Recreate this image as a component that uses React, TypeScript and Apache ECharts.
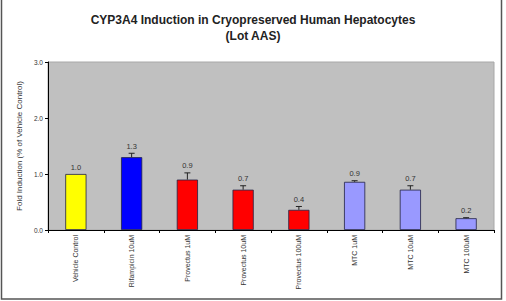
import React, { useEffect, useRef } from "react";
import * as echarts from "echarts";

const categories = [
  "Vehicle Control",
  "Rifampicin 10uM",
  "Provectus 1uM",
  "Provectus 10uM",
  "Provectus 100uM",
  "MTC 1uM",
  "MTC 10uM",
  "MTC 100uM",
];
const foldValues = [1.0, 1.3, 0.9, 0.72, 0.36, 0.86, 0.72, 0.21];
const errValues = [0, 0.07, 0.12, 0.07, 0.06, 0.02, 0.07, 0.01];
const valueLabels = ["1.0", "1.3", "0.9", "0.7", "0.4", "0.9", "0.7", "0.2"];
const barColors = ["#ffff00", "#0000ff", "#ff0000", "#ff0000", "#ff0000", "#9999ff", "#9999ff", "#9999ff"];
const yTicks = [0, 1, 2, 3];

const FONT = "'Liberation Sans', Arial, sans-serif";

export default function App() {
  const ref = useRef<HTMLDivElement>(null);

  useEffect(() => {
    if (!ref.current) return;
    const chart = echarts.init(ref.current, null, { renderer: "svg" });
    chart.setOption({
      animation: false,
      backgroundColor: "#ffffff",
      title: {
        text: "CYP3A4 Induction in Cryopreserved Human Hepatocytes\n(Lot AAS)",
        left: "center",
        top: 7,
        textStyle: {
          fontFamily: FONT,
          fontSize: 12,
          fontWeight: "bold",
          color: "#222",
          lineHeight: 16,
        },
      },
      graphic: [
        {
          type: "rect",
          shape: { x: 1.5, y: -5, width: 500, height: 304 },
          style: { fill: "none", stroke: "#555", lineWidth: 1.5 },
          silent: true,
        },
      ],
      grid: {
        left: 48,
        right: 12,
        top: 62,
        bottom: 71,
        show: true,
        backgroundColor: "#c0c0c0",
        borderColor: "#a8a8a8",
        borderWidth: 1,
      },
      xAxis: {
        type: "category",
        data: categories,
        axisLine: { lineStyle: { color: "#000", width: 1 } },
        axisTick: { show: true, alignWithLabel: false, length: 3, lineStyle: { color: "#000" } },
        axisLabel: {
          rotate: 90,
          interval: 0,
          margin: 5,
          fontFamily: FONT,
          fontSize: 7,
          color: "#333",
        },
      },
      yAxis: {
        type: "value",
        min: 0,
        max: 3,
        interval: 1,
        name: "Fold Induction (% of Vehicle Control)",
        nameLocation: "middle",
        nameGap: 24,
        nameTextStyle: { fontFamily: FONT, fontSize: 8, color: "#333" },
        axisLine: { show: true, lineStyle: { color: "#000", width: 1 } },
        axisTick: { show: true, length: 3, lineStyle: { color: "#000" } },
        splitLine: { show: false },
        axisLabel: {
          margin: 5,
          fontFamily: FONT,
          fontSize: 6.5,
          color: "#333",
          formatter: (v: number) => (yTicks.includes(v) ? v.toFixed(1) : ""),
        },
      },
      series: [
        {
          type: "bar",
          barWidth: "38%",
          data: foldValues.map((v, i) => ({
            value: v,
            itemStyle: { color: barColors[i], borderColor: "#222244", borderWidth: 0.8 },
          })),
          z: 2,
        },
        {
          type: "custom",
          z: 3,
          data: foldValues.map((v, i) => [i, v, errValues[i]]),
          renderItem: (params: any, api: any) => {
            const i = api.value(0);
            const v = api.value(1);
            const e = api.value(2);
            const base = api.coord([i, v]);
            const top = api.coord([i, v + e]);
            const children: any[] = [];
            if (e > 0) {
              children.push({
                type: "line",
                shape: { x1: base[0], y1: base[1], x2: top[0], y2: top[1] },
                style: { stroke: "#222", lineWidth: 1 },
              });
              children.push({
                type: "line",
                shape: { x1: top[0] - 3, y1: top[1], x2: top[0] + 3, y2: top[1] },
                style: { stroke: "#222", lineWidth: 1 },
              });
            }
            children.push({
              type: "text",
              x: top[0],
              y: top[1] - 3,
              style: {
                text: valueLabels[params.dataIndex],
                fontFamily: FONT,
                fontSize: 7.5,
                fill: "#333",
                align: "center",
                verticalAlign: "bottom",
              },
            });
            return { type: "group", children };
          },
        },
      ],
    });
    return () => chart.dispose();
  }, []);

  return (
    <div
      ref={ref}
      style={{ position: "fixed", left: 0, top: 0, width: 506, height: 301 }}
    />
  );
}
